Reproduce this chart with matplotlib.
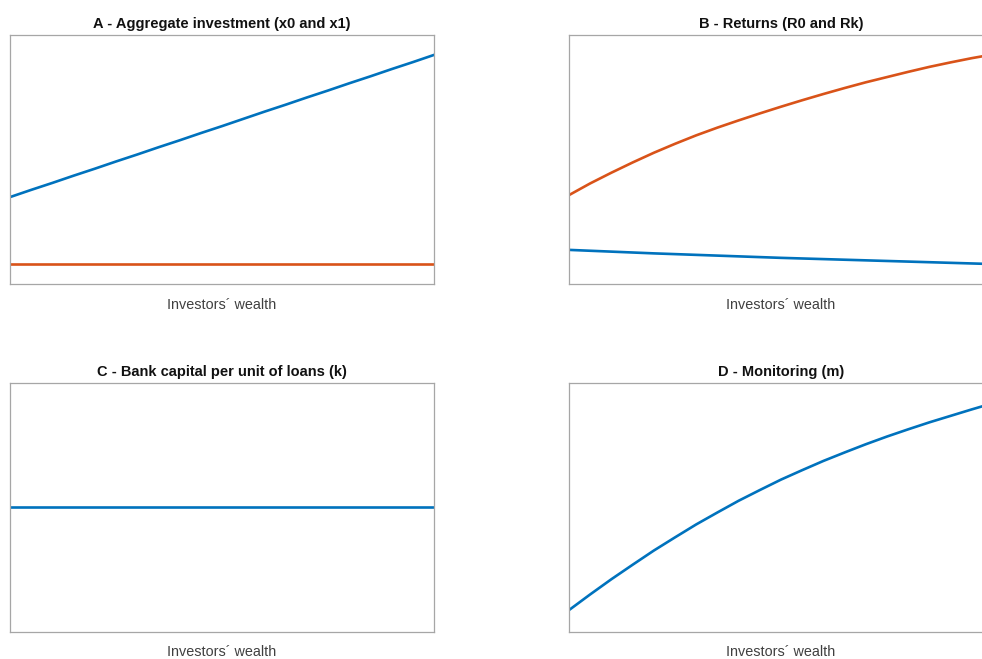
import matplotlib
matplotlib.use("Agg")
import matplotlib.pyplot as plt

# investors' wealth grid (normalised)
wealth = [0.00, 0.05, 0.10, 0.15, 0.20, 0.25, 0.30, 0.35, 0.40, 0.45, 0.50,
          0.55, 0.60, 0.65, 0.70, 0.75, 0.80, 0.85, 0.90, 0.95, 1.00]

# A - aggregate investment
x0 = [0.349, 0.378, 0.406, 0.435, 0.463, 0.492, 0.520, 0.549, 0.577, 0.606, 0.634,
      0.663, 0.692, 0.720, 0.749, 0.777, 0.806, 0.834, 0.863, 0.891, 0.920]
x1 = [0.080] * 21

# B - returns
R0 = [0.137, 0.1335, 0.130, 0.1265, 0.123, 0.120, 0.117, 0.114, 0.111, 0.108, 0.105,
      0.1025, 0.100, 0.0975, 0.095, 0.0925, 0.090, 0.0875, 0.085, 0.0825, 0.080]
Rk = [0.357, 0.404, 0.447, 0.488, 0.527, 0.563, 0.597, 0.628, 0.657, 0.685, 0.712,
      0.738, 0.763, 0.787, 0.810, 0.831, 0.852, 0.872, 0.890, 0.907, 0.922]

# C - bank capital per unit of loans
k = [0.500] * 21

# D - monitoring
m = [0.086, 0.149, 0.210, 0.268, 0.325, 0.378, 0.430, 0.478, 0.525, 0.568, 0.610,
     0.648, 0.685, 0.719, 0.752, 0.783, 0.812, 0.840, 0.866, 0.892, 0.917]

BLUE = "#0072BD"
ORANGE = "#D95319"

plt.rcParams['font.family'] = ['Liberation Sans', 'DejaVu Sans']

fig = plt.figure(figsize=(9.82, 6.59), dpi=100)

W, H = 982.0, 659.0
def panel(left, top):
    return fig.add_axes([left / W, (H - top - 249) / H, 424 / W, 249 / H])

axA = panel(10, 35)
axB = panel(569, 35)
axC = panel(10, 382.5)
axD = panel(569, 382.5)

axA.plot(wealth, x0, color=BLUE, lw=1.9)
axA.plot(wealth, x1, color=ORANGE, lw=1.9)
axB.plot(wealth, R0, color=BLUE, lw=1.9)
axB.plot(wealth, Rk, color=ORANGE, lw=1.9)
axC.plot(wealth, k, color=BLUE, lw=1.9)
axD.plot(wealth, m, color=BLUE, lw=1.9)

titles = ["A - Aggregate investment (x0 and x1)", "B - Returns (R0 and Rk)",
          "C - Bank capital per unit of loans (k)", "D - Monitoring (m)"]

for ax, t in zip([axA, axB, axC, axD], titles):
    ax.set_xlim(0, 1)
    ax.set_ylim(0, 1)
    ax.set_xticks([])
    ax.set_yticks([])
    for s in ax.spines.values():
        s.set_color("#a6a6a6")
        s.set_linewidth(0.9)
    ax.set_title(t, fontsize=10.5, fontweight="bold", color="#111111", pad=5)
    ax.set_xlabel("Investors\u00b4 wealth", fontsize=10.4, color="#404040", labelpad=10)

fig.savefig("out.png", dpi=100, facecolor="white")
